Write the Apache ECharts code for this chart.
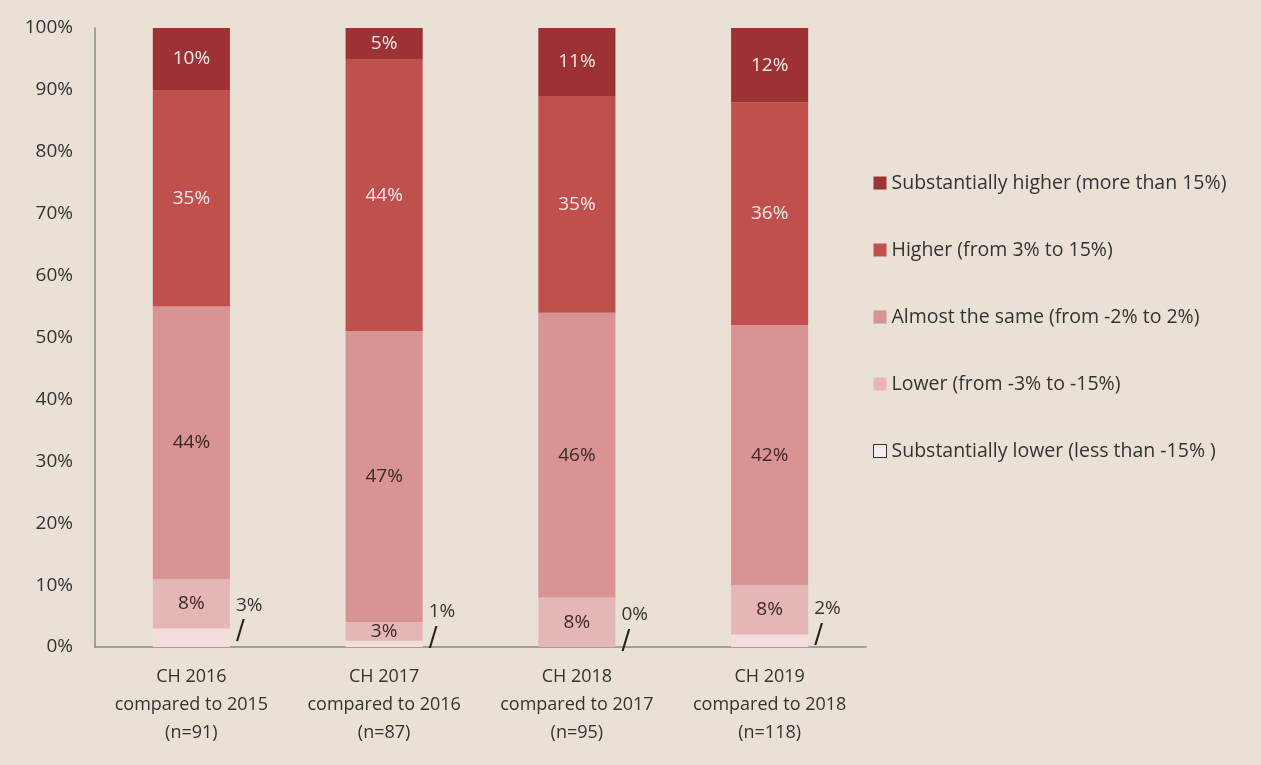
<!DOCTYPE html>
<html>
<head>
<meta charset="utf-8">
<script src="https://cdn.jsdelivr.net/npm/echarts@6/dist/echarts.min.js"></script>
<style>
html,body{margin:0;padding:0;background:#e9e1d5;}
#chart{width:1261px;height:765px;}
</style>
</head>
<body>
<div id="chart"></div>
<script>
var categories = [
  'CH 2016\ncompared to 2015\n(n=91)',
  'CH 2017\ncompared to 2016\n(n=87)',
  'CH 2018\ncompared to 2017\n(n=95)',
  'CH 2019\ncompared to 2018\n(n=118)'
];
var seriesNames = [
  'Substantially lower (less than -15% )',
  'Lower (from -3% to -15%)',
  'Almost the same (from -2% to 2%)',
  'Higher (from 3% to 15%)',
  'Substantially higher (more than 15%)'
];
var substantiallyLower = [3, 1, 0, 2];
var lower = [8, 3, 8, 8];
var almostSame = [44, 47, 46, 42];
var higher = [35, 44, 35, 36];
var substantiallyHigher = [10, 5, 11, 12];
var yTicks = [0, 10, 20, 30, 40, 50, 60, 70, 80, 90, 100];

var colors = ['#f3dcdb', '#e6b6b6', '#d99392', '#c0504d', '#9c3234'];
var values = [substantiallyLower, lower, almostSame, higher, substantiallyHigher];
var FONT = 'Open Sans';

var series = values.map(function (vals, i) {
  var s = {
    name: seriesNames[i],
    type: 'bar',
    stack: 'total',
    barWidth: '40%',
    data: vals,
    itemStyle: { color: colors[i] },
    label: {
      show: true,
      position: 'inside',
      fontFamily: FONT,
      fontSize: 19,
      color: i >= 3 ? '#f7e8e8' : '#3a2a2a',
      formatter: function (p) { return p.value + '%'; }
    },
    emphasis: { disabled: true }
  };
  if (i === 0) {
    s.label = {
      show: true,
      position: 'right',
      distance: 6,
      offset: [0, -18],
      align: 'left',
      fontFamily: FONT,
      formatter: function (p) { return '{v|' + p.value + '%}\n{s|/}'; },
      rich: {
        v: { fontFamily: FONT, fontSize: 19, color: '#333', lineHeight: 26 },
        s: { fontFamily: 'DejaVu Sans', fontSize: 26, fontWeight: 'normal', color: '#222', lineHeight: 28, padding: [0, 0, 0, 0] }
      }
    };
  }
  return s;
});

var legendData = [4, 3, 2, 1, 0].map(function (i) {
  var d = { name: seriesNames[i] };
  if (i === 0) d.itemStyle = { color: '#f6eeee', borderColor: '#333', borderWidth: 1 };
  return d;
});

var chart = echarts.init(document.getElementById('chart'));
chart.setOption({
  backgroundColor: '#e9e1d5',
  animation: false,
  grid: { left: 95, right: 395, top: 28, bottom: 118 },
  legend: {
    orient: 'vertical',
    left: 868,
    top: 167,
    icon: 'rect',
    itemWidth: 13,
    itemHeight: 13,
    itemGap: 45,
    data: legendData,
    textStyle: { fontFamily: FONT, fontSize: 19.5, color: '#333', lineHeight: 22, padding: [0, 0, 0, 0] }
  },
  xAxis: {
    type: 'category',
    data: categories,
    axisLine: { lineStyle: { color: '#8a8a8a', width: 1.5 } },
    axisTick: { show: false },
    axisLabel: { interval: 0, fontFamily: FONT, fontSize: 18, color: '#333', lineHeight: 28, margin: 16 }
  },
  yAxis: {
    type: 'value',
    min: yTicks[0],
    max: yTicks[yTicks.length - 1],
    interval: 10,
    axisLine: { show: true, lineStyle: { color: '#8a8a8a', width: 1.5 } },
    axisTick: { show: false },
    splitLine: { show: false },
    axisLabel: { fontFamily: FONT, fontSize: 19, color: '#333', margin: 22, formatter: '{value}%' }
  },
  series: series
});
</script>
</body>
</html>
